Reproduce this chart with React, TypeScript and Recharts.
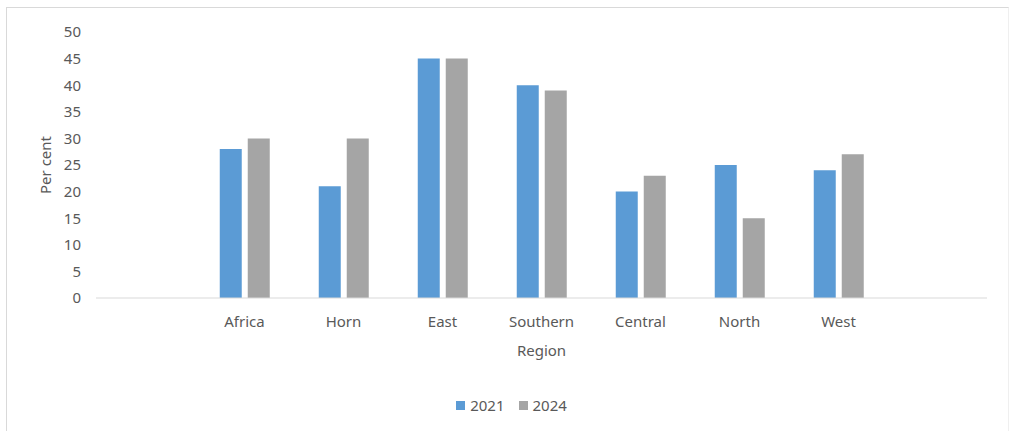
import * as React from 'react'
import { BarChart, Bar, XAxis, YAxis, Legend } from 'recharts'

const regions = ['', 'Africa', 'Horn', 'East', 'Southern', 'Central', 'North', 'West', '']
const values2021 = [null, 28, 21, 45, 40, 20, 25, 24, null]
const values2024 = [null, 30, 30, 45, 39, 23, 15, 27, null]
const yTicks = [0, 5, 10, 15, 20, 25, 30, 35, 40, 45, 50]

const data = regions.map((region, i) => ({
  key: `c${i}`,
  region,
  y2021: values2021[i],
  y2024: values2024[i],
}))

const font = '"Noto Sans", sans-serif'
const textColor = '#595959'

function YLabel(props: any) {
  const vb = props.viewBox || {}
  const cx = vb.x + 5
  const cy = vb.y + vb.height / 2
  return (
    <text
      x={cx}
      y={cy}
      transform={`rotate(-90, ${cx}, ${cy})`}
      textAnchor="middle"
      dominantBaseline="central"
      fill={textColor}
      fontSize={15}
      fontFamily={font}
    >
      Per cent
    </text>
  )
}

function LegendContent(props: any) {
  const items = props.payload || []
  return (
    <div style={{ display: 'flex', justifyContent: 'center', alignItems: 'center', paddingLeft: 13, gap: 14 }}>
      {items.map((it: any) => (
        <div key={it.value} style={{ display: 'flex', alignItems: 'center' }}>
          <span style={{ display: 'inline-block', width: 9, height: 9, background: it.color, marginRight: 5 }} />
          <span style={{ color: textColor, fontSize: 15, fontFamily: font }}>{it.value}</span>
        </div>
      ))}
    </div>
  )
}

export default function App() {
  return (
    <div style={{ position: 'absolute', left: 0, top: 0, width: 1010, height: 431, background: '#fff', fontFamily: font }}>
      <div
        style={{
          position: 'absolute',
          left: 6,
          top: 7,
          width: 1001,
          height: 440,
          borderTop: '1px solid #d9d9d9',
          borderLeft: '1px solid #d9d9d9',
          borderRight: '1px solid #efefef',
        }}
      />
      <BarChart
        width={1010}
        height={431}
        data={data}
        margin={{ top: 32, right: 23, left: 40, bottom: 73 }}
        barCategoryGap="25%"
        barGap={6}
        style={{ position: 'absolute', left: 0, top: 0 }}
      >
        <XAxis
          dataKey="key"
          tickFormatter={(v: string) => data.find((d) => d.key === v)?.region ?? ''}
          tickLine={false}
          tickSize={0}
          tickMargin={18}
          axisLine={{ stroke: '#d9d9d9', strokeWidth: 1 }}
          tick={{ fill: textColor, fontSize: 15, fontFamily: font }}
          interval={0}
          height={60}
          label={{ value: 'Region', position: 'insideBottom', offset: 2, fill: textColor, fontSize: 15, fontFamily: font }}
        />
        <YAxis
          domain={[0, 50]}
          ticks={yTicks}
          width={56}
          axisLine={false}
          tickLine={false}
          tickSize={0}
          tickMargin={15}
          tick={{ fill: textColor, fontSize: 15, fontFamily: font }}
          interval={0}
          label={<YLabel />}
        />
        <Legend
          layout="horizontal"
          verticalAlign="middle"
          align="center"
          content={<LegendContent />}
          wrapperStyle={{ top: 395, left: 0, width: 1010 }}
        />
        <Bar dataKey="y2021" name="2021" fill="#5b9bd5" isAnimationActive={false} />
        <Bar dataKey="y2024" name="2024" fill="#a5a5a5" isAnimationActive={false} />
      </BarChart>
    </div>
  )
}
